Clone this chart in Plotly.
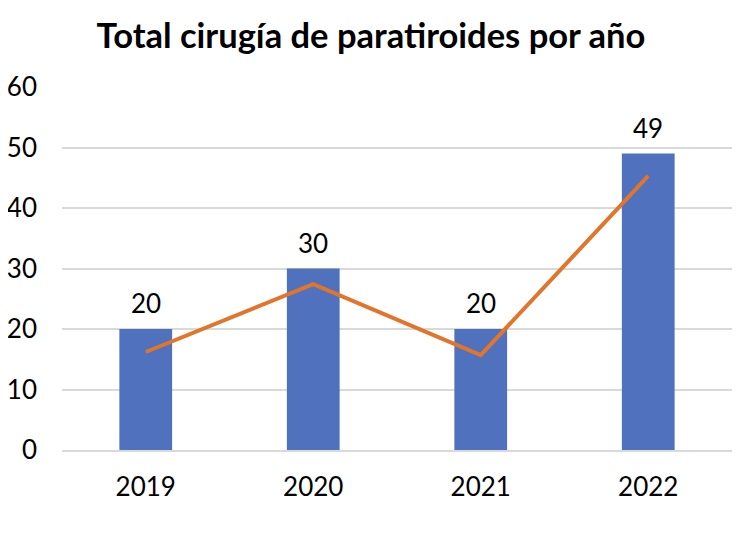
import plotly.graph_objects as go

# datos
years = ["2019", "2020", "2021", "2022"]
cirugias = [20, 30, 20, 49]
tendencia = [16.2, 27.4, 15.7, 45.3]

fig = go.Figure()

# barras azules
fig.add_bar(
    x=years,
    y=cirugias,
    width=0.315,
    marker=dict(color="#4f71be", line=dict(width=0)),
    showlegend=False,
    hoverinfo="x+y",
)

# línea naranja
fig.add_scatter(
    x=years,
    y=tendencia,
    mode="lines",
    line=dict(color="#e0752b", width=4),
    showlegend=False,
)

# etiquetas encima de las barras (x como índice de categoría)
for i, val in enumerate(cirugias):
    fig.add_annotation(
        x=i, y=val, text=str(val), showarrow=False,
        yanchor="bottom", yshift=8,
        font=dict(size=26, color="#000000"),
    )

# la página añade 8px de margen al body, se compensa aquí
fig.update_layout(
    width=750,
    height=539,
    margin=dict(l=54, r=26, t=79, b=97),
    paper_bgcolor="white",
    plot_bgcolor="white",
    font=dict(family="Lato, Open Sans, sans-serif", color="#000000"),
    title=dict(
        text="<b>Total cirugía de paratiroides por año</b>",
        x=0.484, xanchor="center", y=0.948, yanchor="middle",
        font=dict(size=34.5, color="#000000"),
    ),
)

fig.update_yaxes(
    range=[0, 60],
    dtick=10,
    showgrid=True,
    gridcolor="#d9d9d9",
    gridwidth=1.5,
    zeroline=False,
    showline=False,
    tickfont=dict(size=26),
    ticklabelstandoff=24,
    automargin=False,
)
fig.update_xaxes(
    type="category",
    range=[-0.5, len(years) - 0.5],
    showgrid=False,
    showline=True,
    linecolor="#d9d9d9",
    linewidth=1.5,
    tickfont=dict(size=26),
    ticklabelstandoff=13,
    automargin=False,
)

fig.write_html("out.html")
